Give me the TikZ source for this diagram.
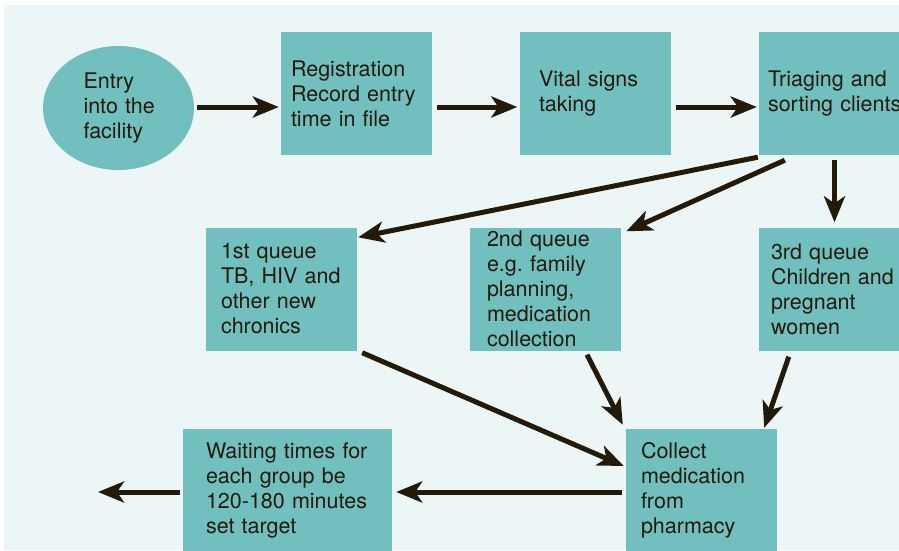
\documentclass[tikz,border=0pt]{standalone}
\usepackage{fontspec}
\setmainfont{TeX Gyre Heros}
\usetikzlibrary{arrows.meta,shapes.geometric,calc}
\definecolor{panel}{RGB}{237,246,247}
\definecolor{boxfill}{RGB}{114,191,191}
\definecolor{ink}{RGB}{35,26,10}
\tikzset{
  stepbox/.style={fill=boxfill,minimum width=151pt,minimum height=123pt,inner sep=0pt,align=left,text=ink,font=\fontsize{21.5}{25}\selectfont},
  flow/.style={draw=ink,line width=5pt,-{Stealth[length=26pt,width=21pt,inset=7pt]}}
}
\begin{document}
\begin{tikzpicture}[x=1pt,y=-1pt]
    \useasboundingbox (0,0) rectangle (899,550);
    \fill[panel] (4,5) rectangle (899,550);
    \node[stepbox,ellipse,minimum height=124pt,text width=70pt] (entry) at (118.5,108) {Entry\\into~the\\facility};
    \node[stepbox,text width=131pt] (reg) at (356.5,93.5) {Registration\\Record~entry\\time~in~file};
    \node[stepbox,text width=112pt] (vital) at (595,93.5) {Vital~signs\\taking};
    \node[stepbox,text width=133pt] (triage) at (834.5,93.5) {Triaging~and\\sorting~clients};
    \node[stepbox,text width=121pt] (q1) at (281.5,289) {1st~queue\\TB,~HIV~and\\other~new\\chronics};
    \node[stepbox,text width=117pt] (q2) at (545.5,289) {2nd~queue\\e.g.\ family\\planning,\\medication\\collection};
    \node[stepbox,text width=127pt] (q3) at (834.5,289) {3rd~queue\\Children~and\\pregnant\\women};
    \node[stepbox,minimum width=209pt,text width=163pt] (wait) at (287.5,490.5) {Waiting~times~for\\each~group~be\\120-180~minutes\\set~target};
    \node[stepbox,text width=121pt] (collect) at (701.5,490.5) {Collect\\medication\\from\\pharmacy};
    \coordinate (exit) at (98,492);
    \draw[flow] ($(entry.east)+(3,-1)$) -- ($(reg.west |- entry.east)+(-2,-1)$);
    \draw[flow] ($(reg.east |- entry.east)+(5,-1)$) -- ($(vital.west |- entry.east)+(-2,-1)$);
    \draw[flow] ($(vital.east |- entry.east)+(5,-1)$) -- ($(triage.west |- entry.east)+(-2,-1)$);
    \draw[flow] ($(triage.south west)+(-1,2)$) -- ($(q1.north east)+(1,10)$);
    \draw[flow] ($(triage.south west)+(26,5)$) -- ($(q2.north east)+(5,4)$);
    \draw[flow] ($(triage.south)+(0,5)$) -- ($(q3.north)+(0,-5)$);
    \draw[flow] ($(q1.south east)+(5,2)$) -- ($(collect.west)+(-2,-24.5)$);
    \draw[flow] ($(q2.south)+(41.5,4)$) -- ($(collect.north west)+(-3,-4)$);
    \draw[flow] ($(q3.south west)+(30,6)$) -- ($(collect.north east)+(-13,-1)$);
    \draw[flow] ($(collect.west)+(-4,1.5)$) -- ($(wait.east)+(4,1.5)$);
    \draw[flow] ($(wait.west)+(-3,1.5)$) -- (exit);
\end{tikzpicture}
\end{document}
